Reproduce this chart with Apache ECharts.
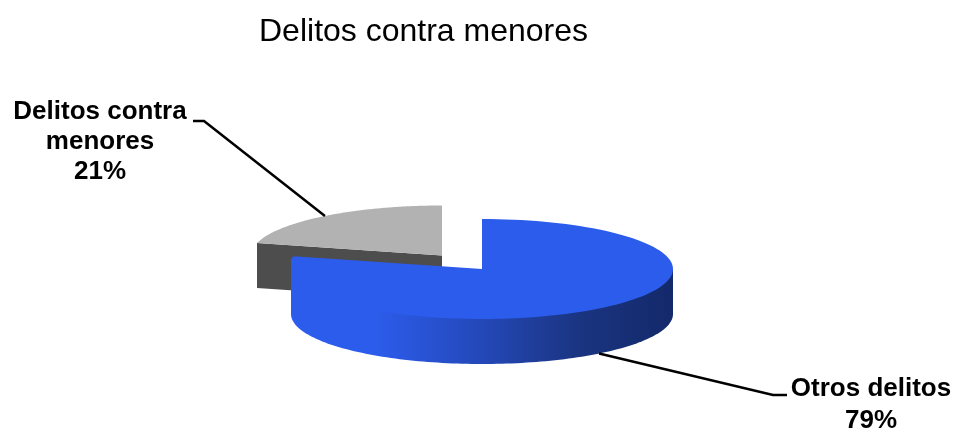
<!DOCTYPE html>
<html><head><meta charset="utf-8">
<style>html,body{margin:0;padding:0;background:#fff}#c{width:957px;height:428px}</style>
<script src="https://cdn.jsdelivr.net/npm/echarts@6/dist/echarts.min.js"></script>
</head><body><div id="c"></div>
<script>
const chartTitle = 'Delitos contra menores';
const categories = ['Otros delitos', 'Delitos contra\nmenores'];
const values = [79, 21];

const total = values.reduce((a, b) => a + b, 0);
const RX = 191, RY = 50, DEPTH = 45;
const centers = [[482, 269], [442, 255.5]];
const faceColors = ['#2c5cec', '#b2b2b2'];
const labelBoxes = [
  {elbow: [773, 395], end: [787, 395], x: 871, y: 373, lineHeight: 32},
  {elbow: [204, 121], end: [193, 121], x: 100, y: 97, lineHeight: 30}
];
const sideGradient = new echarts.graphic.LinearGradient(0, 0, 1, 0, [
  {offset: 0, color: '#2c5cec'},
  {offset: 0.22, color: '#2c5cec'},
  {offset: 0.5, color: '#2448b8'},
  {offset: 0.76, color: '#1a3480'},
  {offset: 1, color: '#13296a'}
]);

function rim(c, t) {
  return [c[0] + RX * Math.sin(t), c[1] - RY * Math.cos(t)];
}
function arc(c, a0, a1, dy) {
  const pts = [], n = 120;
  for (let i = 0; i <= n; i++) {
    const p = rim(c, a0 + (a1 - a0) * i / n);
    pts.push([p[0], p[1] + (dy || 0)]);
  }
  return pts;
}

function renderItem(params, api) {
  const i = params.dataIndex;
  let before = 0;
  for (let k = 0; k < i; k++) before += values[k];
  const a0 = before / total * 2 * Math.PI;
  const a1 = (before + api.value(0)) / total * 2 * Math.PI;
  const mid = (a0 + a1) / 2;
  const c = centers[i];
  const base = i === 0 ? 20 : 0;
  const kids = [];

  if (i === 0) {
    const east = Math.PI / 2, west = 1.5 * Math.PI;
    // wall: runs under the top face so no seam shows along the rim
    kids.push({type: 'polygon', z2: base, shape: {
      points: [rim(c, west), rim(c, east)].concat(arc(c, east, west, DEPTH))
    }, style: {fill: sideGradient}});
    // the rounded shoulder where the slice's back corner meets its flank
    const w = rim(c, west), tip = rim(c, a1);
    kids.push({type: 'polygon', z2: base + 1, shape: {points: [
      [w[0], w[1] + DEPTH], [w[0], tip[1] + 3], [w[0] + 2, tip[1]], tip, [tip[0] + 4, w[1] + DEPTH]
    ]}, style: {fill: faceColors[0]}});
  } else {
    const tip = rim(c, a0);
    kids.push({type: 'polygon', z2: base, shape: {points: [tip, c, [c[0], c[1] + DEPTH], [tip[0], tip[1] + DEPTH]]},
      style: {fill: '#4d4d4d'}});
  }
  kids.push({type: 'polygon', z2: base + 2, shape: {points: arc(c, a0, a1, 0).concat([c])},
    style: {fill: faceColors[i]}});

  const p = rim(c, mid);
  const anchor = [p[0], p[1] + (Math.cos(mid) < 0 ? DEPTH : 0)];
  const b = labelBoxes[i];
  kids.push({type: 'polyline', z2: 40, shape: {points: [anchor, b.elbow, b.end]},
    style: {stroke: '#000', lineWidth: 2.5, fill: null}});
  kids.push({type: 'text', z2: 41, x: b.x, y: b.y, style: {
    text: categories[i] + '\n' + api.value(0) + '%',
    font: 'bold 26px "Liberation Sans", Arial, sans-serif',
    fill: '#000', align: 'center', verticalAlign: 'top', lineHeight: b.lineHeight
  }});
  return {type: 'group', children: kids};
}

const chart = echarts.init(document.getElementById('c'), null, {renderer: 'canvas'});
chart.setOption({
  animation: false,
  backgroundColor: '#fff',
  title: {text: chartTitle, left: 254, top: 11,
    textStyle: {fontFamily: '"Liberation Sans", Arial, sans-serif', fontWeight: 'normal', fontSize: 32, color: '#000'}},
  series: [{
    type: 'custom',
    coordinateSystem: 'none',
    renderItem,
    silent: true,
    data: values.map((v, i) => ({name: categories[i], value: [v]}))
  }]
});
</script></body></html>
